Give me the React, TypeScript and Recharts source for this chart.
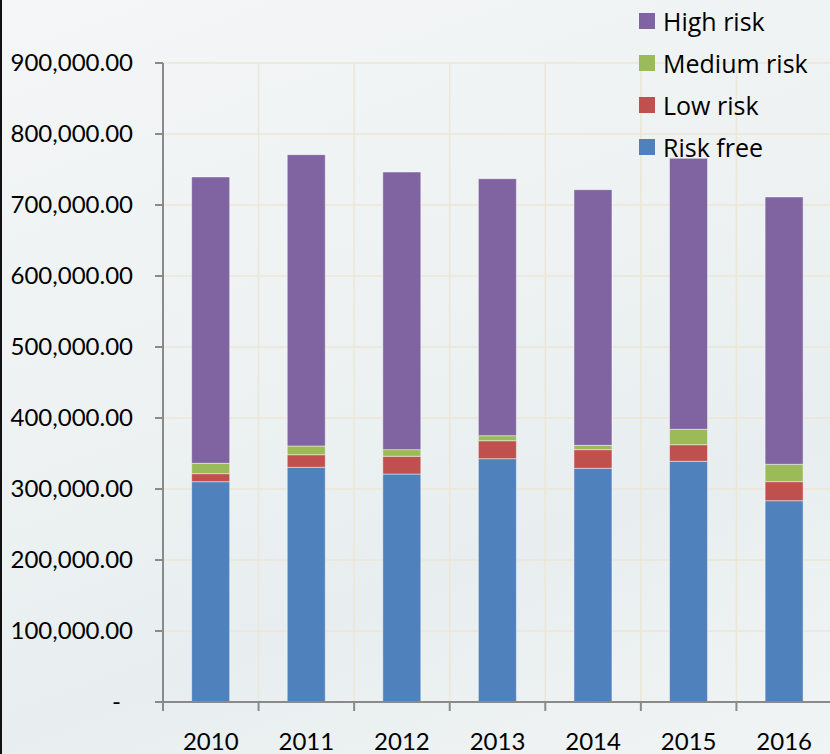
import React from 'react';
import { BarChart, Bar, XAxis, YAxis, CartesianGrid, Legend } from 'recharts';

const years = ['2010', '2011', '2012', '2013', '2014', '2015', '2016'];
const riskFree = [310300, 330600, 321100, 342700, 329200, 339000, 283500];
const lowRisk = [11300, 17700, 25000, 25300, 26200, 23400, 26800];
const mediumRisk = [14600, 12300, 9300, 7100, 6100, 21700, 24500];
const highRisk = [403300, 410300, 391100, 362000, 360100, 381700, 376500];
const yTicks = [0, 100000, 200000, 300000, 400000, 500000, 600000, 700000, 800000, 900000];

const series = [
  { key: 'riskFree', name: 'Risk free', color: '#4f81bd' },
  { key: 'lowRisk', name: 'Low risk', color: '#c0504d' },
  { key: 'mediumRisk', name: 'Medium risk', color: '#9bbb59' },
  { key: 'highRisk', name: 'High risk', color: '#8064a2' },
];

const data = years.map((y, i) => ({
  year: y,
  riskFree: riskFree[i],
  lowRisk: lowRisk[i],
  mediumRisk: mediumRisk[i],
  highRisk: highRisk[i],
}));

const FONT = 'Lato, "Open Sans", sans-serif';
const LEGEND_FONT = '"Open Sans", Lato, sans-serif';
const CHART_W = 850;
const CHART_H = 754;
const Y_W = 163;
const M_RIGHT = 18;
const PLOT_W = CHART_W - Y_W - M_RIGHT;
const AXIS_COLOR = '#8a8a8a';
const GRID_COLOR = '#ece6d4';

const fmt = (v: number) =>
  v.toLocaleString('en-US', { minimumFractionDigits: 2, maximumFractionDigits: 2 });

const YTick = (props: any) => {
  const { x, y, payload } = props;
  const v = payload.value as number;
  if (v === 0) {
    return (
      <text x={x - 12} y={y} dy="0.35em" textAnchor="end" fill="#000" fontSize={24} fontFamily={FONT}>
        -
      </text>
    );
  }
  return (
    <text x={x} y={y} dy="0.35em" textAnchor="end" fill="#000" fontSize={24} fontFamily={FONT}>
      {fmt(v)}
    </text>
  );
};

const XTick = (props: any) => {
  const { x, y, payload } = props;
  const half = payload && typeof payload.offset === 'number' && payload.offset > 0 ? payload.offset : PLOT_W / years.length / 2;
  return (
    <g>
      <line x1={x - half} x2={x - half} y1={y} y2={y + 9} stroke={AXIS_COLOR} strokeWidth={2} />
      <text x={x} y={y + 48} textAnchor="middle" fill="#000" fontSize={24} fontFamily={FONT}>
        {payload.value}
      </text>
    </g>
  );
};

const LegendContent = () => {
  const items = [...series].reverse();
  return (
    <div style={{ fontFamily: LEGEND_FONT, fontSize: 25, color: '#000' }}>
      {items.map((s) => (
        <div key={s.key} style={{ height: 42, display: 'flex', alignItems: 'center' }}>
          <span style={{ display: 'inline-block', width: 16, height: 16, background: s.color, marginRight: 8 }} />
          <span style={{ lineHeight: '42px' }}>{s.name}</span>
        </div>
      ))}
    </div>
  );
};

export default function App() {
  return (
    <div
      style={{
        position: 'absolute',
        left: 0,
        top: 0,
        width: 830,
        height: 754,
        overflow: 'hidden',
        background: 'linear-gradient(160deg, #f4f6f7 0%, #eef2f3 40%, #e8eeef 70%, #f1f4f5 100%)',
      }}
    >
      <div style={{ position: 'absolute', left: 0, top: 0, width: 2, height: 754, background: '#111' }} />
      <BarChart
        width={CHART_W}
        height={CHART_H}
        data={data}
        margin={{ top: 63, right: M_RIGHT, bottom: 0, left: 0 }}
        barCategoryGap="30%"
      >
        <CartesianGrid
          stroke={GRID_COLOR}
          strokeWidth={1.5}
          verticalCoordinatesGenerator={(p: any) => {
            const off = p.offset;
            return years.map((_, i) => off.left + (i * off.width) / years.length).slice(1).concat([off.left + off.width]);
          }}
        />
        <XAxis
          dataKey="year"
          height={52}
          axisLine={{ stroke: AXIS_COLOR, strokeWidth: 2 }}
          tickLine={false}
          tickSize={0}
          tickMargin={0}
          tick={<XTick />}
          interval={0}
        />
        <YAxis
          width={Y_W}
          domain={[0, 900000]}
          ticks={yTicks}
          interval={0}
          axisLine={{ stroke: AXIS_COLOR, strokeWidth: 2 }}
          tickLine={{ stroke: AXIS_COLOR, strokeWidth: 2 }}
          tickSize={8}
          tickMargin={22}
          tick={<YTick />}
        />
        <Legend
          layout="vertical"
          align="center"
          verticalAlign="middle"
          content={<LegendContent />}
          wrapperStyle={{ position: 'absolute', left: 639, top: 0, width: 200, height: 170 }}
        />
        {series.map((s) => (
          <Bar
            key={s.key}
            dataKey={s.key}
            name={s.name}
            stackId="a"
            fill={s.color}
            stroke="#ffffff"
            strokeOpacity={0.45}
            strokeWidth={1}
            isAnimationActive={false}
          />
        ))}
      </BarChart>
    </div>
  );
}
